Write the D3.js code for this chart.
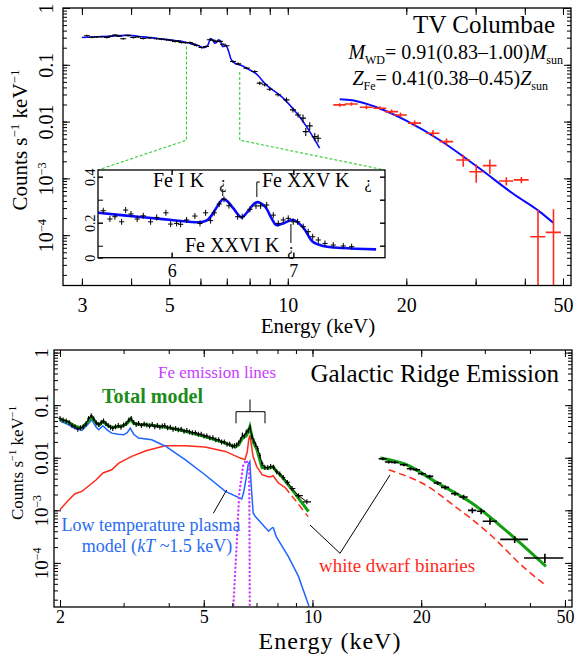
<!DOCTYPE html>
<html>
<head>
<meta charset="utf-8">
<script src="https://cdn.jsdelivr.net/npm/d3@7"></script>
<style>
  body { margin: 0; background: #fff; }
  text { font-family: "Liberation Serif", "DejaVu Serif", serif; }
</style>
</head>
<body>
<div id="chart"></div>
<script>
// tick values
var topXTicks = [3, 5, 10, 20, 50];
var botXTicks = [2, 5, 10, 20, 50];
var yTicks = [1, 0.1, 0.01, 1e-3, 1e-4];
var insetXTicks = [6, 7];
var insetYTicks = [0, 0.2, 0.4];
var insetYMinor = [0.1, 0.2, 0.3, 0.4];

// ---- TV Columbae: XIS spectrum (black) ----
var xisE = [3.09,3.18,3.27,3.37,3.47,3.55,3.64,3.73,3.82,3.93,4.05,4.17,4.29,4.45,4.64,4.78,4.92,5.04,5.17,5.27,
  5.37,5.50,5.64,5.75,5.87,6.04,6.20,6.34,6.46,6.59,6.72,6.85,6.99,7.26,7.48,7.86,8.24,8.49,8.74,9.00,
  9.45,9.92,10.31,10.62,10.93,11.11,11.37,11.71,11.94];
var xisV = [0.325,0.305,0.308,0.312,0.303,0.318,0.334,0.320,0.288,0.329,0.303,0.310,0.291,0.298,0.288,0.283,0.276,0.270,0.258,0.262,
  0.247,0.245,0.247,0.232,0.219,0.202,0.21,0.276,0.27,0.258,0.258,0.23,0.216,0.114,0.104,0.0875,0.0762,0.0475,0.0444,0.0372,
  0.0296,0.0241,0.0161,0.0131,0.0115,0.00667,0.0084,0.00543,0.00509];
var xisRelErr = [0.04,0.04,0.04,0.04,0.04,0.04,0.04,0.04,0.04,0.04,0.04,0.04,0.04,0.04,0.04,0.04,0.04,0.04,0.04,0.04,
  0.04,0.04,0.04,0.04,0.04,0.04,0.04,0.04,0.04,0.04,0.04,0.04,0.04,0.05,0.05,0.05,0.05,0.07,0.07,0.07,
  0.07,0.1,0.1,0.1,0.16,0.16,0.16,0.16,0.16];
// XIS model (blue)
var xisModelE = [3.0,3.5,3.9,4.3,4.74,5.2,5.53,5.9,6.1,6.25,6.37,6.45,6.52,6.6,6.67,6.75,6.83,6.97,7.08,7.19,7.33,7.6,7.85,8.32,8.82,9.73,10.7,11.37,12.05];
var xisModelV = [0.303,0.318,0.329,0.31,0.287,0.265,0.247,0.22,0.20,0.215,0.29,0.27,0.24,0.25,0.275,0.26,0.21,0.216,0.17,0.122,0.107,0.098,0.0875,0.069,0.0443,0.0259,0.0123,0.00667,0.0034];

// HXD spectrum (red) and model
var hxdE = [13.55,14.51,15.84,17.14,18.35,19.33,21.0,23.38,25.3,27.9,30.1,32.6,35.9,39.2,43.2,47.3];
var hxdDE = [0.5,0.55,0.6,0.65,0.7,0.75,0.8,0.9,1.0,1.1,1.2,1.3,1.5,1.7,1.9,2.1];
var hxdV = [0.0197,0.0204,0.0179,0.0172,0.0150,0.0131,0.0094,0.00624,0.00444,0.00211,0.00131,0.00168,0.0009,0.00094,0.000094,0.000112];
var hxdErr = [0.0014,0.0014,0.0014,0.0014,0.0014,0.0013,0.0011,0.0009,0.0006,0.0005,0.00047,0.00047,0.00015,0.00012,0.000186,0.000173];
var hxdModelE = [13.55,14.6,16.8,19.99,24.3,30.6,37.3,43.2,47.2];
var hxdModelV = [0.0248,0.0237,0.0179,0.0104,0.00474,0.00152,0.000541,0.000273,0.000165];

// zoomed band marked by the green dashed lines
var zoomE = [5.53, 7.55];
var zoomStartV = [0.21, 0.075];
var zoomLinkV = 0.0047;

// ---- inset: Fe K band ----
var insetE = [5.438,5.493,5.534,5.589,5.622,5.666,5.717,5.767,5.827,5.877,5.953,5.992,6.041,6.074,6.123,6.191,6.233,6.279,6.320,6.350,
  6.391,6.430,6.471,6.542,6.580,6.643,6.693,6.731,6.781,6.835,6.876,6.917,6.958,6.999,7.035,7.081,7.122,7.159,7.205,7.260,
  7.328,7.410,7.479];
var insetV = [0.252,0.216,0.226,0.204,0.255,0.238,0.216,0.230,0.204,0.223,0.243,0.194,0.197,0.193,0.212,0.229,0.197,0.243,0.209,0.243,
  0.281,0.302,0.274,0.226,0.226,0.258,0.273,0.273,0.277,0.233,0.197,0.212,0.219,0.204,0.204,0.183,0.161,0.139,0.125,0.110,
  0.103,0.099,0.096];
var insetModelE = [5.395,5.767,6.0,6.232,6.29,6.33,6.38,6.424,6.46,6.506,6.575,6.62,6.698,6.767,6.82,6.86,6.93,7.0,7.08,7.16,7.245,7.4,7.68];
var insetModelV = [0.243,0.2235,0.212,0.202,0.21,0.233,0.275,0.303,0.292,0.263,0.223,0.245,0.289,0.27,0.22,0.19,0.2,0.212,0.18,0.117,0.099,0.09,0.084];
var lineNames = ["Fe I K", "Fe XXV K", "Fe XXVI K"];
var lineE = [6.42, 6.70, 6.98];

// ---- Galactic Ridge Emission ----
var grxE = [2.00,2.04,2.08,2.12,2.16,2.20,2.24,2.28,2.32,2.36,2.40,2.44,2.48,2.52,2.56,2.60,2.64,2.68,2.72,2.76,
  2.80,2.85,2.90,2.95,3.00,3.05,3.10,3.15,3.20,3.25,3.30,3.36,3.42,3.48,3.54,3.60,3.66,3.72,3.78,3.84,
  3.90,3.97,4.04,4.11,4.18,4.25,4.33,4.41,4.49,4.57,4.65,4.74,4.83,4.92,5.01,5.10,5.20,5.30,5.40,5.50,
  5.60,5.70,5.80,5.90,6.00,6.08,6.16,6.24,6.32,6.40,6.48,6.56,6.64,6.72,6.80,6.88,6.96,7.05,7.15,7.25,
  7.38,7.52,7.66,7.80,7.96,8.12,8.30,8.52,8.78,9.15,9.65];
var grxV = [0.056,0.052,0.050,0.047,0.041,0.039,0.035,0.037,0.039,0.044,0.056,0.063,0.055,0.046,0.043,0.047,0.050,0.045,0.041,0.038,
  0.036,0.039,0.041,0.038,0.042,0.045,0.052,0.056,0.047,0.043,0.045,0.041,0.044,0.042,0.040,0.043,0.039,0.041,0.038,0.040,
  0.041,0.037,0.038,0.035,0.036,0.034,0.035,0.032,0.033,0.031,0.030,0.030,0.028,0.028,0.026,0.026,0.024,0.024,0.022,0.022,
  0.020,0.020,0.018,0.018,0.0165,0.017,0.0175,0.019,0.022,0.027,0.026,0.031,0.033,0.038,0.025,0.021,0.018,0.015,0.011,0.0078,
  0.0066,0.0065,0.0068,0.0066,0.0054,0.0049,0.0042,0.0034,0.0026,0.0019,0.00145];
var totE = [2.0,2.1,2.2,2.3,2.38,2.45,2.52,2.57,2.63,2.7,2.78,2.9,3.0,3.07,3.13,3.2,3.3,3.53,3.7,3.91,
  4.1,4.44,5.04,5.74,6.11,6.25,6.36,6.45,6.55,6.64,6.71,6.77,6.87,7.02,7.15,7.25,7.45,7.62,7.78,7.9,8.22,8.78,9.75];
var totV = [0.054,0.048,0.040,0.037,0.047,0.060,0.046,0.042,0.049,0.042,0.038,0.039,0.041,0.045,0.054,0.045,0.043,0.042,0.040,0.038,
  0.036,0.032,0.0254,0.019,0.016,0.0175,0.022,0.025,0.026,0.031,0.039,0.029,0.019,0.0142,0.009,0.0065,0.0063,0.0064,0.0068,0.0058,
  0.0044,0.00247,0.00095];
var plasmaE = [2.0,2.1,2.2,2.3,2.38,2.45,2.52,2.56,2.63,2.7,2.78,2.9,3.0,3.07,3.13,3.2,3.3,3.59,3.85,3.91,
  3.99,4.44,5.04,5.74,6.37,6.45,6.55,6.64,6.71,6.76,6.85,6.94,7.2,7.56,7.75,7.8,7.93,8.57,9.14,9.78];
var plasmaV = [0.050,0.043,0.036,0.033,0.042,0.0527,0.038,0.034,0.0405,0.034,0.0294,0.028,0.0273,0.030,0.0366,0.028,0.0237,0.022,0.0175,0.0169,
  0.0153,0.00917,0.00475,0.00229,0.00164,0.0022,0.004,0.0075,0.0085,0.0033,0.0009,0.00077,0.00058,0.0004,0.00047,0.00046,0.00032,0.000133,0.000056,0.000015];
var wdE = [2.0,2.1,2.2,2.3,2.4,2.52,2.63,2.78,2.91,3.16,3.46,3.91,4.44,5.04,5.74,6.31,6.50,6.60,6.66,6.71,
  6.77,6.85,7.01,7.12,7.25,7.5,7.64,7.78,8.05,8.39];
var wdV = [0.00103,0.0015,0.00207,0.00229,0.0029,0.00382,0.00513,0.0059,0.0079,0.0106,0.0136,0.0169,0.0170,0.016,0.0132,0.00986,0.0092,0.013,0.022,0.027,
  0.018,0.0105,0.0068,0.0058,0.00475,0.0044,0.0043,0.00455,0.0033,0.00274];
var wdDashE = [8.39, 9.0, 9.73];
var wdDashV = [0.00274, 0.0015, 0.00076];
var feLineE = [6.04, 6.15, 6.27, 6.43, 6.55, 6.68, 6.69, 6.70, 6.705];
var feLineV = [1.6e-5, 1.5e-4, 0.0021, 0.0071, 0.009, 0.007, 0.001, 1e-4, 1.4e-5];
// HXD part of the ridge spectrum
var grxHxdE = [15.65,16.26,16.9,17.9,18.7,19.4,20.1,21.1,22.2,23.3,24.8,26.2,27.7,29.3,31.0,36.3,44.0];
var grxHxdDE = [0.4,0.4,0.4,0.45,0.45,0.45,0.5,0.5,0.55,0.6,0.6,0.7,0.75,0.75,1.4,3.2,5.5];
var grxHxdV = [0.00957,0.00828,0.00814,0.00736,0.00618,0.00592,0.00497,0.00442,0.00331,0.00273,0.00207,0.00179,0.00100,0.00096,0.00062,0.00028,0.000124];
var grxHxdRelErr = [0.06,0.06,0.06,0.06,0.07,0.07,0.07,0.08,0.08,0.09,0.09,0.1,0.12,0.12,0.14,0.15,0.2];
var hxTotE = [15.4, 18.2, 22.2, 27.6, 34.1, 44.3];
var hxTotV = [0.00986, 0.00736, 0.00331, 0.00138, 0.00043, 0.000086];
var hxWdE = [16.26, 20.1, 24.8, 30.7, 38.2, 44.3];
var hxWdV = [0.0059, 0.00331, 0.00119, 0.00037, 0.000086, 0.000037];

// colours
var cTopBlue = "#0a0aff", cRed = "#ff2a1a", cBlue = "#1f66ff", cGreen = "#12a012",
    cMag = "#c83cff", cDash = "#33cc33";

var svg = d3.select("#chart").append("svg").attr("width", 576).attr("height", 654)
  .attr("font-family", '"Liberation Serif", "DejaVu Serif", serif');

// scales
var xTop = d3.scaleLog().domain([2.686, 52.4]).range([63, 571]);
var yTop = d3.scaleLog().domain([1.3e-5, 1]).range([285.5, 8]);
var xIn = d3.scaleLinear().domain([5.395, 7.753]).range([98, 385]);
var yIn = d3.scaleLinear().domain([0.048, 0.429]).range([257.7, 170]).clamp(true);
var xBot = d3.scaleLog().domain([1.925, 52.3]).range([54, 572]);
var yBot = d3.scaleLog().domain([1.45e-5, 1.12]).range([607, 350]);

var defs = svg.append("defs");
function clip(id, x, y) {
  defs.append("clipPath").attr("id", id).append("rect")
    .attr("x", x.range()[0]).attr("y", y.range()[1])
    .attr("width", x.range()[1] - x.range()[0]).attr("height", y.range()[0] - y.range()[1]);
}
clip("clipTop", xTop, yTop);
clip("clipIn", xIn, yIn);
clip("clipBot", xBot, yBot);

function lineOf(x, y) {
  return d3.line().x(d => x(d[0])).y(d => y(d[1]));
}

// superscript labels for powers of ten
function powLabel(sel, d) {
  sel.text(null);
  if (d >= 0.01) { sel.text(String(d)); return; }
  var e = Math.round(Math.log10(d));
  sel.append("tspan").text("10");
  sel.append("tspan").attr("dy", "-0.6em").attr("font-size", "0.62em").text("\u2212" + (-e));
}

function noLabel() { return ""; }

// ticks on all four sides, pointing inward
function frameAxes(g, x, y, o) {
  var L = x.range()[0], R = x.range()[1], B = y.range()[0], T = y.range()[1];
  var specs = [
    [d3.axisBottom(x).tickValues(o.minorX).tickSize(-o.minor), "translate(0," + B + ")"],
    [d3.axisTop(x).tickValues(o.minorX).tickSize(-o.minor), "translate(0," + T + ")"],
    [d3.axisTop(x).tickValues(o.xMajor).tickSize(-o.major), "translate(0," + T + ")"],
    [d3.axisLeft(y).tickValues(o.minorY).tickSize(-o.minor), "translate(" + L + ",0)"],
    [d3.axisRight(y).tickValues(o.minorY).tickSize(-o.minor), "translate(" + R + ",0)"],
    [d3.axisRight(y).tickValues(o.yMajor).tickSize(-o.major), "translate(" + R + ",0)"]
  ];
  specs.forEach(function(s) {
    var a = g.append("g").attr("transform", s[1]).call(s[0].tickFormat(noLabel));
    a.select(".domain").remove();
    a.selectAll("text").remove();
  });

  var xb = g.append("g").attr("transform", "translate(0," + B + ")")
    .call(d3.axisBottom(x).tickValues(o.xMajor).tickSize(-o.major).tickPadding(o.xPad)
      .tickFormat(d => o.xLabels.indexOf(d) >= 0 ? String(d) : ""));
  xb.select(".domain").remove();
  xb.attr("font-family", null).attr("font-size", o.xFont);

  var yl = g.append("g").attr("transform", "translate(" + L + ",0)")
    .call(d3.axisLeft(y).tickValues(o.yLabels).tickSize(-o.major).tickFormat(noLabel));
  yl.select(".domain").remove();
  yl.attr("font-family", null).attr("font-size", o.yFont);
  yl.selectAll("text")
    .attr("x", null).attr("dy", null)
    .attr("text-anchor", "middle")
    .attr("transform", "translate(" + (-o.yPad) + ",0) rotate(-90)")
    .each(function(d) { o.yFormat(d3.select(this), d); });

  g.append("rect").attr("x", L).attr("y", T).attr("width", R - L).attr("height", B - T)
    .attr("fill", "none").attr("stroke", "#000").attr("stroke-width", 1.3);
}

function crosses(g, xs, ys, path, color, width) {
  g.append("g").selectAll("path")
    .data(d3.range(xs.length))
    .enter().append("path")
    .attr("d", path)
    .attr("fill", "none").attr("stroke", color).attr("stroke-width", width);
}

// ================= top panel =================
var topG = svg.append("g");
var topData = topG.append("g").attr("clip-path", "url(#clipTop)");

topData.append("path")
  .datum(d3.zip(xisModelE, xisModelV))
  .attr("d", lineOf(xTop, yTop).curve(d3.curveCatmullRom))
  .attr("fill", "none").attr("stroke", cTopBlue).attr("stroke-width", 1.6);

crosses(topData, xisE, xisV, function(i) {
  var x = xTop(xisE[i]), y = yTop(xisV[i]);
  return "M" + (x - 3) + "," + y + "H" + (x + 3) +
    "M" + x + "," + yTop(xisV[i] * (1 + xisRelErr[i])) + "V" + yTop(xisV[i] * (1 - xisRelErr[i]));
}, "#000", 1.1);

topData.append("path")
  .datum(d3.zip(hxdModelE, hxdModelV))
  .attr("d", lineOf(xTop, yTop).curve(d3.curveCatmullRom))
  .attr("fill", "none").attr("stroke", cTopBlue).attr("stroke-width", 2);

crosses(topData, hxdE, hxdV, function(i) {
  var y = yTop(hxdV[i]), x = xTop(hxdE[i]);
  var lo = Math.max(hxdV[i] - hxdErr[i], 1e-7);
  return "M" + xTop(hxdE[i] - hxdDE[i]) + "," + y + "H" + xTop(hxdE[i] + hxdDE[i]) +
    "M" + x + "," + yTop(hxdV[i] + hxdErr[i]) + "V" + yTop(lo);
}, cRed, 1.6);

// green dashed guides from the band to the inset
var inL = xIn.range()[0], inR = xIn.range()[1], inT = yIn.range()[1], inB = yIn.range()[0];
var guideEnds = [inL, inR];
zoomE.forEach(function(e, i) {
  topG.append("path")
    .attr("d", "M" + xTop(e) + "," + yTop(zoomStartV[i]) + "V" + yTop(zoomLinkV) + "L" + guideEnds[i] + "," + inT)
    .attr("fill", "none").attr("stroke", cDash).attr("stroke-width", 1.1)
    .attr("stroke-dasharray", "3,2");
});

frameAxes(topG, xTop, yTop, {
  minorX: xTop.ticks(), minorY: yTop.ticks(), xMajor: d3.range(3, 11).concat([20, 30, 40, 50]),
  xLabels: topXTicks, yMajor: yTicks, yLabels: yTicks, minor: 4, major: 7, xPad: 12, yPad: 10,
  xFont: 20, yFont: 20, yFormat: powLabel
});

// inset
var inset = svg.append("g");
inset.append("rect").attr("x", inL).attr("y", inT).attr("width", inR - inL).attr("height", inB - inT)
  .attr("fill", "#fff");
var inData = inset.append("g").attr("clip-path", "url(#clipIn)");
inData.append("path")
  .datum(d3.zip(insetModelE, insetModelV))
  .attr("d", lineOf(xIn, yIn).curve(d3.curveCatmullRom))
  .attr("fill", "none").attr("stroke", cTopBlue).attr("stroke-width", 2.6);
crosses(inData, insetE, insetV, function(i) {
  var x = xIn(insetE[i]), y = yIn(insetV[i]);
  return "M" + (x - 2.6) + "," + y + "H" + (x + 2.6) + "M" + x + "," + (y - 3) + "V" + (y + 3);
}, "#000", 1);

frameAxes(inset, xIn, yIn, {
  minorX: insetXTicks, minorY: insetYMinor, xMajor: insetXTicks, xLabels: insetXTicks, yMajor: insetYMinor,
  yLabels: insetYTicks, minor: 5, major: 5, xPad: 7, yPad: 3,
  xFont: 18, yFont: 14, yFormat: function(s, d) { s.text(String(d)); }
});

// Fe line markers
var inText = inset.append("g").attr("font-size", 20);
inText.append("text").attr("x", 153).attr("y", 187).text(lineNames[0]);
inText.append("text").attr("x", 262).attr("y", 187).text(lineNames[1]);
inText.append("text").attr("x", 185).attr("y", 251.5).text(lineNames[2]);
var qm = inset.append("g").attr("font-size", 16).attr("text-anchor", "middle");
qm.append("text").attr("x", xIn(lineE[0])).attr("y", 188).text("\u00bf");
qm.append("text").attr("x", 368).attr("y", 188).text("\u00bf");
qm.append("text").attr("x", xIn(lineE[2])).attr("y", 255).text("\u00bf");
inset.append("path")
  .attr("d", "M" + xIn(lineE[0]) + ",189V196" +
    "M" + xIn(lineE[1]) + ",197V182H" + (xIn(lineE[1]) + 3) +
    "M" + xIn(lineE[2]) + ",224V243")
  .attr("fill", "none").attr("stroke", "#000").attr("stroke-width", 1);

// titles
topG.append("text").attr("x", 555).attr("y", 33).attr("text-anchor", "end")
  .attr("font-size", 25).text("TV Columbae");
var mwd = topG.append("text").attr("x", 563).attr("y", 59).attr("text-anchor", "end").attr("font-size", 20);
mwd.append("tspan").attr("font-style", "italic").text("M");
mwd.append("tspan").attr("font-size", 12).attr("dy", 5).text("WD");
mwd.append("tspan").attr("dy", -5).text("= 0.91(0.83\u20131.00)");
mwd.append("tspan").attr("font-style", "italic").text("M");
mwd.append("tspan").attr("font-size", 12).attr("dy", 5).text("sun");
var zfe = topG.append("text").attr("x", 548).attr("y", 85).attr("text-anchor", "end").attr("font-size", 20);
zfe.append("tspan").attr("font-style", "italic").text("Z");
zfe.append("tspan").attr("font-size", 12).attr("dy", 5).text("Fe");
zfe.append("tspan").attr("dy", -5).text("= 0.41(0.38\u20130.45)");
zfe.append("tspan").attr("font-style", "italic").text("Z");
zfe.append("tspan").attr("font-size", 12).attr("dy", 5).text("sun");

topG.append("text").attr("x", 318).attr("y", 333).attr("text-anchor", "middle")
  .attr("font-size", 21).text("Energy (keV)");

function countsLabel(g, x, y, size) {
  var t = g.append("text").attr("transform", "translate(" + x + "," + y + ") rotate(-90)")
    .attr("text-anchor", "middle").attr("font-size", size);
  t.append("tspan").text("Counts s");
  t.append("tspan").attr("font-size", size * 0.62).attr("dy", -size * 0.4).text("\u22121");
  t.append("tspan").attr("dy", size * 0.4).text(" keV");
  t.append("tspan").attr("font-size", size * 0.62).attr("dy", -size * 0.4).text("\u22121");
}
countsLabel(topG, 27, 140, 21);

// ================= bottom panel =================
var botG = svg.append("g");
var botData = botG.append("g").attr("clip-path", "url(#clipBot)");

botData.append("path").datum(d3.zip(wdE, wdV))
  .attr("d", lineOf(xBot, yBot)).attr("fill", "none").attr("stroke", cRed).attr("stroke-width", 1.5);
botData.append("path").datum(d3.zip(wdDashE, wdDashV))
  .attr("d", lineOf(xBot, yBot).curve(d3.curveCatmullRom)).attr("fill", "none").attr("stroke", cRed)
  .attr("stroke-width", 1.5).attr("stroke-dasharray", "7,4");
botData.append("path").datum(d3.zip(hxWdE, hxWdV))
  .attr("d", lineOf(xBot, yBot).curve(d3.curveCatmullRom)).attr("fill", "none").attr("stroke", cRed)
  .attr("stroke-width", 1.5).attr("stroke-dasharray", "7,4");

botData.append("path").datum(d3.zip(plasmaE, plasmaV))
  .attr("d", lineOf(xBot, yBot)).attr("fill", "none").attr("stroke", cBlue).attr("stroke-width", 1.5);

botData.append("path").datum(d3.zip(totE, totV))
  .attr("d", lineOf(xBot, yBot)).attr("fill", "none").attr("stroke", cGreen).attr("stroke-width", 3);
botData.append("path").datum(d3.zip(hxTotE, hxTotV))
  .attr("d", lineOf(xBot, yBot).curve(d3.curveCatmullRom)).attr("fill", "none").attr("stroke", cGreen).attr("stroke-width", 3);

// black data: XIS part
botData.append("path").datum(d3.zip(grxE, grxV))
  .attr("d", lineOf(xBot, yBot)).attr("fill", "none").attr("stroke", "#000").attr("stroke-width", 1);
crosses(botData, grxE, grxV, function(i) {
  var n = grxE.length;
  var lo = i > 0 ? Math.sqrt(grxE[i - 1] * grxE[i]) : grxE[0] * grxE[0] / Math.sqrt(grxE[0] * grxE[1]);
  var hi = i < n - 1 ? Math.sqrt(grxE[i] * grxE[i + 1]) : grxE[i] * grxE[i] / lo;
  var x = xBot(grxE[i]), y = yBot(grxV[i]);
  return "M" + xBot(lo) + "," + y + "H" + xBot(hi) + "M" + x + "," + (y - 2.5) + "V" + (y + 2.5);
}, "#000", 1.1);
// black data: HXD part
crosses(botData, grxHxdE, grxHxdV, function(i) {
  var y = yBot(grxHxdV[i]), x = xBot(grxHxdE[i]);
  return "M" + xBot(grxHxdE[i] - grxHxdDE[i]) + "," + y + "H" + xBot(grxHxdE[i] + grxHxdDE[i]) +
    "M" + x + "," + yBot(grxHxdV[i] * (1 + grxHxdRelErr[i])) + "V" + yBot(grxHxdV[i] * (1 - grxHxdRelErr[i]));
}, "#000", 1.6);

// Fe lines (dotted)
botData.append("path").datum(d3.zip(feLineE, feLineV))
  .attr("d", lineOf(xBot, yBot)).attr("fill", "none").attr("stroke", cMag)
  .attr("stroke-width", 2.4).attr("stroke-dasharray", "0.1,4").attr("stroke-linecap", "round");

frameAxes(botG, xBot, yBot, {
  minorX: xBot.ticks(), minorY: yBot.ticks(), xMajor: botXTicks, xLabels: botXTicks, yMajor: yTicks,
  yLabels: yTicks, minor: 4, major: 7, xPad: 3, yPad: 6,
  xFont: 18, yFont: 19, yFormat: powLabel
});

// annotations
botG.append("path").attr("d", "M236,423.3V411.7H265V423.3M250,411.7V399.5")
  .attr("fill", "none").attr("stroke", "#000").attr("stroke-width", 1);
botG.append("path").attr("d", "M213.3,513.3L226.7,490")
  .attr("fill", "none").attr("stroke", "#000").attr("stroke-width", 1);
botG.append("path").attr("d", "M310,525L340,553.3L390,475")
  .attr("fill", "none").attr("stroke", "#000").attr("stroke-width", 1);

botG.append("text").attr("x", 217).attr("y", 378).attr("text-anchor", "middle")
  .attr("font-size", 17).attr("fill", cMag).text("Fe emission lines");
botG.append("text").attr("x", 559).attr("y", 381.5).attr("text-anchor", "end")
  .attr("font-size", 25).text("Galactic Ridge Emission");
botG.append("text").attr("x", 102).attr("y", 403).attr("font-size", 20).attr("font-weight", "bold")
  .attr("fill", "#1a8c1a").text("Total model");
botG.append("text").attr("x", 151).attr("y", 531).attr("text-anchor", "middle")
  .attr("font-size", 18).attr("fill", "#2a6cf0").text("Low temperature plasma");
var kt = botG.append("text").attr("x", 157).attr("y", 552).attr("text-anchor", "middle")
  .attr("font-size", 18).attr("fill", "#2a6cf0");
kt.append("tspan").text("model (");
kt.append("tspan").attr("font-style", "italic").text("kT");
kt.append("tspan").text(" ~1.5 keV)");
botG.append("text").attr("x", 397).attr("y", 572).attr("text-anchor", "middle")
  .attr("font-size", 19).attr("fill", cRed).text("white dwarf binaries");

botG.append("text").attr("x", 330).attr("y", 648.5).attr("text-anchor", "middle")
  .attr("font-size", 24).attr("letter-spacing", 1).text("Energy (keV)");
countsLabel(botG, 23, 463, 17);
</script>
</body>
</html>
